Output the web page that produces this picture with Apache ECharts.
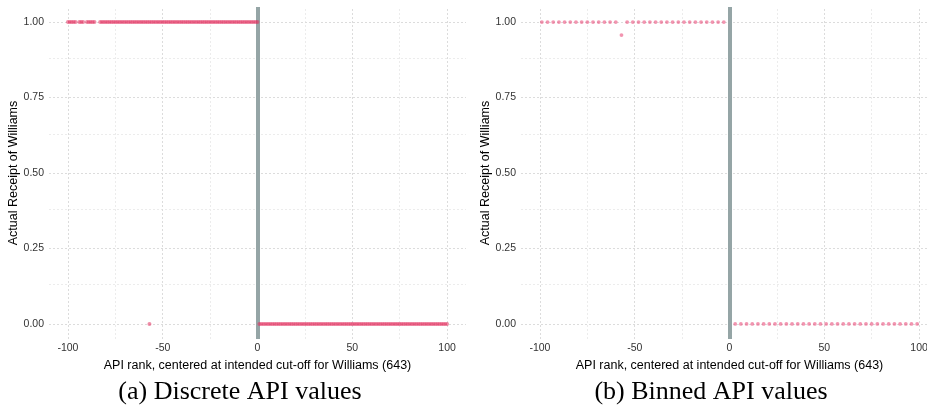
<!DOCTYPE html>
<html>
<head>
<meta charset="utf-8">
<script src="https://cdn.jsdelivr.net/npm/echarts@6/dist/echarts.min.js"></script>
<style>
html,body{margin:0;padding:0;background:#fff;}
#chart{width:927px;height:406px;}
</style>
</head>
<body>
<div id="chart"></div>
<script>
// ---- Data ----
// Panel (a): discrete API ranks
const discreteTreatedX = [-100,-99,-98,-97,-96,-94,-93,-92,-90,-89,-88,-87,-86,-83,-82,-81,-80,-79,-78,-77,-76,-75,-74,-73,-72,-71,-70,-69,-68,-67,-66,-65,-64,-63,-62,-61,-60,-59,-58,-57,-56,-55,-54,-53,-52,-51,-50,-49,-48,-47,-46,-45,-44,-43,-42,-41,-40,-39,-38,-37,-36,-35,-34,-33,-32,-31,-30,-29,-28,-27,-26,-25,-24,-23,-22,-21,-20,-19,-18,-17,-16,-15,-14,-13,-12,-11,-10,-9,-8,-7,-6,-5,-4,-3,-2,-1,0];
const discreteTreatedY = [1,1,1,1,1,1,1,1,1,1,1,1,1,1,1,1,1,1,1,1,1,1,1,1,1,1,1,1,1,1,1,1,1,1,1,1,1,1,1,1,1,1,1,1,1,1,1,1,1,1,1,1,1,1,1,1,1,1,1,1,1,1,1,1,1,1,1,1,1,1,1,1,1,1,1,1,1,1,1,1,1,1,1,1,1,1,1,1,1,1,1,1,1,1,1,1,1];
const discreteUntreatedX = [-57,1,2,3,4,5,6,7,8,9,10,11,12,13,14,15,16,17,18,19,20,21,22,23,24,25,26,27,28,29,30,31,32,33,34,35,36,37,38,39,40,41,42,43,44,45,46,47,48,49,50,51,52,53,54,55,56,57,58,59,60,61,62,63,64,65,66,67,68,69,70,71,72,73,74,75,76,77,78,79,80,81,82,83,84,85,86,87,88,89,90,91,92,93,94,95,96,97,98,99,100];
const discreteUntreatedY = [0,0,0,0,0,0,0,0,0,0,0,0,0,0,0,0,0,0,0,0,0,0,0,0,0,0,0,0,0,0,0,0,0,0,0,0,0,0,0,0,0,0,0,0,0,0,0,0,0,0,0,0,0,0,0,0,0,0,0,0,0,0,0,0,0,0,0,0,0,0,0,0,0,0,0,0,0,0,0,0,0,0,0,0,0,0,0,0,0,0,0,0,0,0,0,0,0,0,0,0,0];

// Panel (b): binned API values
const binnedLeftX = [-99,-96,-93,-90,-87,-84,-81,-78,-75,-72,-69,-66,-63,-60,-57,-54,-51,-48,-45,-42,-39,-36,-33,-30,-27,-24,-21,-18,-15,-12,-9,-6,-3];
const binnedLeftY = [1,1,1,1,1,1,1,1,1,1,1,1,1,1,0.957,1,1,1,1,1,1,1,1,1,1,1,1,1,1,1,1,1,1];
const binnedRightX = [3,6,9,12,15,18,21,24,27,30,33,36,39,42,45,48,51,54,57,60,63,66,69,72,75,78,81,84,87,90,93,96,99];
const binnedRightY = [0,0,0,0,0,0,0,0,0,0,0,0,0,0,0,0,0,0,0,0,0,0,0,0,0,0,0,0,0,0,0,0,0];

// Ticks / gridlines
const xMajorTicks = [-100,-50,0,50,100];
const xMinorTicks = [-75,-25,25,75];
const yMajorTicks = [0,0.25,0.5,0.75,1];
const yMinorTicks = [0.125,0.375,0.625,0.875];
const cutoff = 0;

const xTitle = 'API rank, centered at intended cut-off for Williams (643)';
const yTitle = 'Actual Receipt of Williams';
const captions = ['(a) Discrete API values', '(b) Binned API values'];

// ---- Chart ----
const zip = (xs, ys) => xs.map((x, i) => [x, ys[i]]);
const chart = echarts.init(document.getElementById('chart'), null, {renderer: 'canvas'});
const sansFont = '"Liberation Sans", Arial, sans-serif';

function xAxisDef(gi) {
  return {
    gridIndex: gi, type: 'value', min: -110, max: 110, interval: 5,
    axisLine: {show: false}, axisTick: {show: false}, splitLine: {show: false},
    axisLabel: {
      margin: 4, color: '#333', fontSize: 10.5, fontFamily: sansFont, hideOverlap: false,
      formatter: v => { const r = Math.round(v); return (r % 50 === 0 && Math.abs(r) <= 100) ? String(r) : ''; }
    },
    name: xTitle, nameLocation: 'middle', nameGap: 19,
    nameTextStyle: {color: '#000', fontSize: 12.5, fontFamily: sansFont}
  };
}
function yAxisDef(gi) {
  return {
    gridIndex: gi, type: 'value', min: -0.05, max: 1.05, interval: 0.05,
    axisLine: {show: false}, axisTick: {show: false}, splitLine: {show: false},
    axisLabel: {
      margin: 5, color: '#333', fontSize: 10.5, fontFamily: sansFont,
      formatter: v => { const r = Math.round(v * 100); return (Math.abs(v * 100 - r) < 1e-6 && r % 25 === 0 && r >= 0 && r <= 100) ? (r / 100).toFixed(2) : ''; }
    },
    name: yTitle, nameLocation: 'middle', nameGap: 23, nameRotate: 90,
    nameTextStyle: {color: '#000', fontSize: 12.5, fontFamily: sansFont}
  };
}
function gridSeries(gi) {
  const mk = (arr, key, color) => arr.map(v => ({[key]: v, lineStyle: {color: color, width: 1, type: [2, 2]}}));
  return {
    type: 'scatter', xAxisIndex: gi, yAxisIndex: gi, data: [], silent: true, z: 1,
    markLine: {
      silent: true, symbol: 'none', label: {show: false}, animation: false,
      data: [].concat(
        mk(xMinorTicks, 'xAxis', '#ececec'), mk(yMinorTicks, 'yAxis', '#ececec'),
        mk(xMajorTicks, 'xAxis', '#dcdcdc'), mk(yMajorTicks, 'yAxis', '#dcdcdc'))
    }
  };
}
function cutoffSeries(gi) {
  return {
    type: 'scatter', xAxisIndex: gi, yAxisIndex: gi, data: [], silent: true, z: 10,
    markLine: {
      silent: true, symbol: 'none', label: {show: false}, animation: false,
      data: [{xAxis: cutoff, lineStyle: {color: '#95a5a6', width: 4, type: 'solid'}}]
    }
  };
}
const dotStyleA = {color: '#e2305f', opacity: 0.55};
const dotStyleB = {color: '#ea4f7c', opacity: 0.6};

chart.setOption({
  animation: false,
  backgroundColor: '#fff',
  grid: [
    {left: 49, top: 7, width: 417, height: 332, containLabel: false, outerBoundsMode: 'none'},
    {left: 521, top: 7, width: 417, height: 332, containLabel: false, outerBoundsMode: 'none'}
  ],
  xAxis: [xAxisDef(0), xAxisDef(1)],
  yAxis: [yAxisDef(0), yAxisDef(1)],
  series: [
    gridSeries(0), gridSeries(1),
    {type: 'scatter', xAxisIndex: 0, yAxisIndex: 0, symbolSize: 4, itemStyle: dotStyleA, z: 5,
     data: zip(discreteTreatedX, discreteTreatedY)},
    {type: 'scatter', xAxisIndex: 0, yAxisIndex: 0, symbolSize: 4, itemStyle: dotStyleA, z: 5,
     data: zip(discreteUntreatedX, discreteUntreatedY)},
    {type: 'scatter', xAxisIndex: 1, yAxisIndex: 1, symbolSize: 3.8, itemStyle: dotStyleB, z: 5,
     data: zip(binnedLeftX, binnedLeftY)},
    {type: 'scatter', xAxisIndex: 1, yAxisIndex: 1, symbolSize: 3.8, itemStyle: dotStyleB, z: 5,
     data: zip(binnedRightX, binnedRightY)},
    cutoffSeries(0), cutoffSeries(1)
  ],
  graphic: [
    {type: 'text', x: 240, y: 392, silent: true,
     style: {text: captions[0], fill: '#000', font: '26px "Liberation Serif", "DejaVu Serif", serif', textAlign: 'center', textVerticalAlign: 'middle'}},
    {type: 'text', x: 711, y: 392, silent: true,
     style: {text: captions[1], fill: '#000', font: '26px "Liberation Serif", "DejaVu Serif", serif', textAlign: 'center', textVerticalAlign: 'middle'}}
  ]
});
</script>
</body>
</html>
